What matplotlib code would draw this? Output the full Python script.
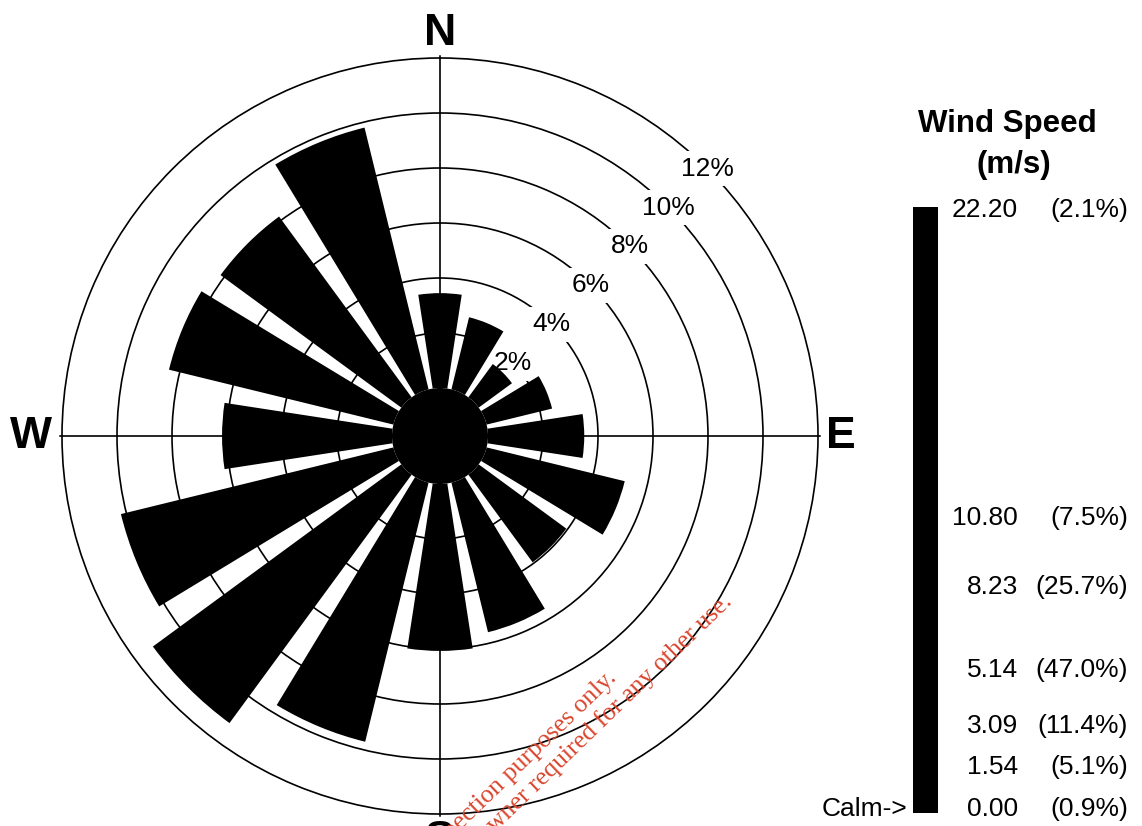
import numpy as np
import matplotlib
matplotlib.use('Agg')
import matplotlib.pyplot as plt

plt.rcParams['font.family'] = ['Liberation Sans', 'DejaVu Sans']

# frequency (%) per direction, clockwise from N
directions = ['N', 'NNE', 'NE', 'ENE', 'E', 'ESE', 'SE', 'SSE',
              'S', 'SSW', 'SW', 'WSW', 'W', 'WNW', 'NW', 'NNW']
freq = [3.45, 2.7, 1.5, 2.45, 3.5, 5.17, 3.95, 5.6,
        6.07, 9.7, 11.2, 10.2, 6.18, 8.4, 8.15, 9.8]
rings = [2, 4, 6, 8, 10, 12]

# legend: wind speed classes and their share
speed_bins = [0.00, 1.54, 3.09, 5.14, 8.23, 10.80, 22.20]
bin_pct = [0.9, 5.1, 11.4, 47.0, 25.7, 7.5, 2.1]

W, H = 1142, 826
cx, cy = 440, 436          # rose centre (px)
px_per_pct = 27.5
hole_px = 48               # calm hole in the middle
rmin = -hole_px / px_per_pct
rmax = 12.1
rad_px = (rmax - rmin) * px_per_pct

fig = plt.figure(figsize=(W / 100, H / 100), dpi=100)
ax = fig.add_axes([(cx - rad_px) / W, (H - cy - rad_px) / H,
                   2 * rad_px / W, 2 * rad_px / H], projection='polar')
ax.set_theta_zero_location('N')
ax.set_theta_direction(-1)
ax.set_ylim(rmin, rmax)
ax.set_axisbelow(True)
ax.set_rgrids(rings, labels=[''] * len(rings))
ax.set_thetagrids([0, 90, 180, 270], labels=[''] * 4)
ax.grid(True, color='black', lw=1.2)
ax.spines['polar'].set_visible(False)
ax.tick_params(length=0)

theta = np.deg2rad(np.arange(len(directions)) * 22.5)
ax.bar(theta, freq, width=np.deg2rad(17.5), bottom=0,
       color='black', edgecolor='none', zorder=3)
# black centre disc
ax.bar(0, -rmin, width=2 * np.pi, bottom=rmin, color='black',
       edgecolor='none', zorder=3)

for r in rings:
    ax.text(np.deg2rad(45), r, '%d%%' % r, ha='center', va='center',
            fontsize=19, zorder=2,
            bbox=dict(fc='white', ec='none', pad=4))

ax.text(0, 12.9, 'N', ha='center', va='center', fontsize=32,
        fontweight='bold', clip_on=False)
ax.text(np.pi / 2, 12.84, 'E', ha='center', va='center', fontsize=32,
        fontweight='bold', clip_on=False)
ax.text(3 * np.pi / 2, 13.13, 'W', ha='center', va='center', fontsize=32,
        fontweight='bold', clip_on=False)
ax.text(np.pi, 12.95, 'S', ha='center', va='center', fontsize=32,
        fontweight='bold', clip_on=False)

# legend bar
bar_l, bar_r, bar_t, bar_b = 913, 938, 207, 813
lax = fig.add_axes([bar_l / W, (H - bar_b) / H,
                    (bar_r - bar_l) / W, (bar_b - bar_t) / H])
lax.set_axis_off()
lax.set_xlim(0, 1)
lax.set_ylim(-0.15, 22.31)
lax.add_patch(plt.Rectangle((0, 0), 1, 1, transform=lax.transAxes,
                            color='black'))
tr = lax.get_yaxis_transform()
bw = bar_r - bar_l
for v, p in zip(speed_bins, bin_pct):
    lax.text((1018 - bar_l) / bw, v, '%.2f' % v, transform=tr,
             ha='right', va='center', fontsize=19)
    lax.text((1128 - bar_l) / bw, v, '(%.1f%%)' % p, transform=tr,
             ha='right', va='center', fontsize=19)
lax.text((907 - bar_l) / bw, speed_bins[0], 'Calm->', transform=tr,
         ha='right', va='center', fontsize=19)

fig.text(1007 / W, 1 - 124 / H, 'Wind Speed', ha='center', va='center',
         fontsize=22.5, fontweight='bold')
fig.text(1014 / W, 1 - 165 / H, '(m/s)', ha='center', va='center',
         fontsize=22.5, fontweight='bold')

# watermark
wm = dict(rotation=44, rotation_mode='anchor', ha='right', va='baseline',
          fontsize=18.5, color='#d9462e', family='Liberation Serif', zorder=10)
fig.text(617 / W, 1 - 679 / H, 'For inspection purposes only.', **wm)
fig.text(733 / W, 1 - 603 / H,
         'Consent of copyright owner required for any other use.', **wm)

fig.savefig('out.png', dpi=100, facecolor='white')
